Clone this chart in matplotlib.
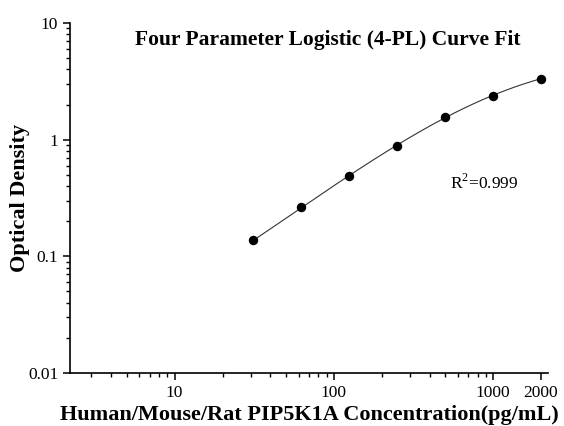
import numpy as np
import matplotlib

matplotlib.use("Agg")
import matplotlib.pyplot as plt
from matplotlib.ticker import FixedLocator, LogLocator, NullFormatter, FixedFormatter

# standard concentrations (pg/mL) and measured optical density
conc = [31.25, 62.5, 125, 250, 500, 1000, 2000]
od = [0.137, 0.264, 0.490, 0.889, 1.56, 2.39, 3.34]

x_ticks = [10, 100, 1000, 2000]
x_tick_labels = ["10", "100", "1000", "2000"]
y_ticks = [0.01, 0.1, 1, 10]
y_tick_labels = ["0.01", "0.1", "1", "10"]


def fit_4pl(x, y):
    """Crude 4-PL fit: grid over the asymptotes, linear fit for slope/EC50."""
    x = np.asarray(x, float)
    y = np.asarray(y, float)
    best = None
    for a in np.linspace(0.0, y.min() * 0.95, 40):
        for d in np.linspace(y.max() * 1.05, y.max() * 6, 120):
            z = np.log((y - a) / (d - y))
            b, c0 = np.polyfit(np.log(x), z, 1)
            c = np.exp(-c0 / b)
            pred = d + (a - d) / (1 + (x / c) ** b)
            err = np.sum((np.log(pred) - np.log(y)) ** 2)
            if best is None or err < best[0]:
                best = (err, a, b, c, d)
    return best[1:]


a, b, c, d = fit_4pl(conc, od)
xs = np.logspace(np.log10(conc[0]), np.log10(conc[-1]), 200)
ys = d + (a - d) / (1 + (xs / c) ** b)

plt.rcParams["font.family"] = ["Liberation Serif", "DejaVu Serif"]
plt.rcParams["mathtext.fontset"] = "custom"
plt.rcParams["mathtext.rm"] = "Liberation Serif"

fig = plt.figure(figsize=(5.64, 4.26), dpi=100)
ax = fig.add_axes([0.124, 0.1244, 0.848, 0.8216])

ax.plot(xs, ys, color="#333333", lw=0.8)
ax.plot(conc, od, "o", color="black", ms=5.8)

ax.set_xscale("log")
ax.set_yscale("log")
ax.set_xlim(2.2, 2220)
ax.set_ylim(0.01, 10)

ax.xaxis.set_major_locator(FixedLocator(x_ticks))
ax.xaxis.set_major_formatter(FixedFormatter(x_tick_labels))
ax.xaxis.set_minor_locator(LogLocator(base=10, subs=np.arange(2, 10)))
ax.xaxis.set_minor_formatter(NullFormatter())
ax.yaxis.set_major_locator(FixedLocator(y_ticks))
ax.yaxis.set_major_formatter(FixedFormatter(y_tick_labels))
ax.yaxis.set_minor_locator(LogLocator(base=10, subs=np.arange(2, 10)))
ax.yaxis.set_minor_formatter(NullFormatter())

for s in ["top", "right"]:
    ax.spines[s].set_visible(False)
for s in ["left", "bottom"]:
    ax.spines[s].set_linewidth(1.2)

ax.tick_params(which="major", direction="out", length=5, width=1.1, labelsize=12.5)
ax.tick_params(which="minor", direction="out", length=3, width=1.0)

ax.set_xlabel("Human/Mouse/Rat PIP5K1A Concentration(pg/mL)", fontsize=16,
              fontweight="bold", labelpad=3)
ax.set_ylabel("Optical Density", fontsize=16, fontweight="bold")
ax.yaxis.set_label_coords(-0.084, 0.5)

ax.text(0.54, 0.952, "Four Parameter Logistic (4-PL) Curve Fit", transform=ax.transAxes,
        ha="center", va="center", fontsize=15.5, fontweight="bold")
ax.text(0.795, 0.543, r"R$^{2}$=0.999", transform=ax.transAxes, ha="left", va="center",
        fontsize=12.5)

fig.savefig("out.png", dpi=100)
